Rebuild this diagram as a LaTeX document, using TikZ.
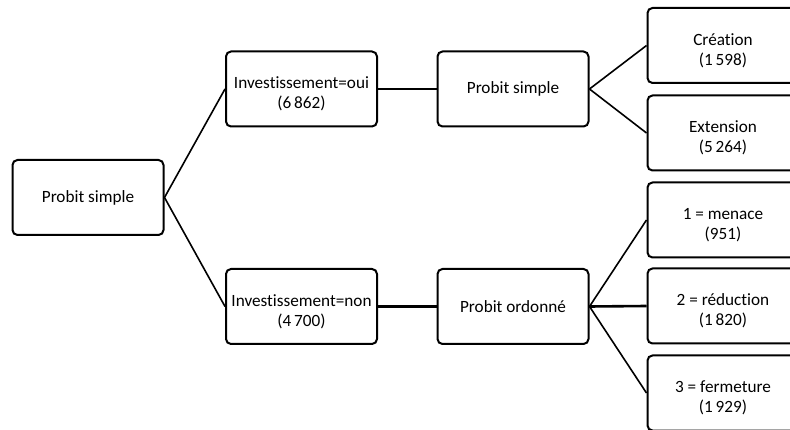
\documentclass[tikz,border=0pt]{standalone}
\usepackage{fontspec}
\setmainfont{Carlito}[Ligatures=NoCommon]
\tikzset{
  box/.style={draw,line width=2pt,rounded corners=5pt,minimum width=151pt,minimum height=75pt,
    inner sep=0pt,align=center,font=\fontsize{17.2}{20}\selectfont},
  inbox/.style={yshift=-5pt,align=center,font=\fontsize{17.2}{20}\selectfont},
  link/.style={line width=1.6pt},
  flat/.style={line width=2.6pt}
}
\begin{document}
\begin{tikzpicture}[x=1pt,y=-1pt]
	\useasboundingbox (0,0) rectangle (790,430);
	
	\node[box] (root) at (88,197.5) {Probit simple};
	\node[box,label={[inbox]center:Investissement=oui\\(6\,862)}] (oui) at (301.5,89) {};
	\node[box,label={[inbox]center:Investissement=non\\(4\,700)}] (non) at (301.5,306.5) {};
	\node[box] (simple) at (513,89) {Probit simple};
	\node[box] (ordonne) at (513,306.5) {Probit ordonné};
	
	\node[box,label={[inbox]center:Création\\(1\,598)}] (creation) at (723,45.5) {};
	\node[box,label={[inbox]center:Extension\\(5\,264)}] (extension) at (723,133) {};
	\node[box,label={[inbox]center:1 = menace\\(951)}] (menace) at (723,220) {};
	\node[box,label={[inbox]center:2 = réduction\\(1\,820)}] (reduction) at (723,306) {};
	\node[box,label={[inbox]center:3 = fermeture\\(1\,929)}] (fermeture) at (723,393) {};
	
	\draw[link] (root.east) -- (oui.west) (root.east) -- (non.west);
	\draw[flat] (oui) -- (simple) (non) -- (ordonne);
	\draw[link] (simple.east) -- (creation.west) (simple.east) -- (extension.west);
	\draw[link] (ordonne.east) -- (menace.west) (ordonne.east) -- (fermeture.west);
	\draw[flat] (ordonne.east) -- (reduction.west);
\end{tikzpicture}
\end{document}
